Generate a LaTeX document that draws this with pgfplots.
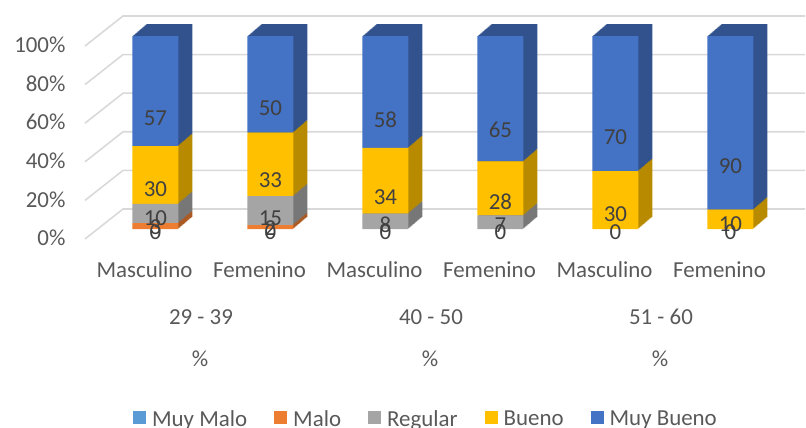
\documentclass[border=0pt]{standalone}
\usepackage{pgfplots}
\pgfplotsset{compat=1.18}
\usepackage{pgfplotstable}
\usepackage{fontspec}
\setmainfont{Carlito}
\definecolor{cMM}{HTML}{5B9BD5}
\definecolor{cMa}{HTML}{ED7D31}
\definecolor{cRe}{HTML}{A5A5A5}
\definecolor{cBu}{HTML}{FFC000}
\definecolor{cMB}{HTML}{4472C4}
\definecolor{tickc}{HTML}{595959}
\definecolor{labc}{HTML}{404040}
\definecolor{gridc}{HTML}{D9D9D9}
\newcommand\F{\fontsize{23}{27}\selectfont}

\pgfplotstableread{
x MuyMalo Malo Regular Bueno MuyBueno
0 0 3 10 30 57
1 0 2 15 33 50
2 0 0 8 34 58
3 0 0 7 28 65
4 0 0 0 30 70
5 0 0 0 10 90
}\data

\pgfplotsset{
  geom/.style={scale only axis, width=720bp, height=193bp,
    xmin=-0.613, xmax=5.648, ymin=0, ymax=100,
    at={(0,0)}, anchor=south west, clip=false},
  bars/.style={ybar stacked, bar width=46bp},
  sq legend/.style={legend image code/.code={\fill[#1,draw=none] (0bp,-5bp) rectangle (13bp,8bp);}},
}
\newcommand\sidebar[2]{\addplot[fill=#2!72!black, draw=none] table[x=x, y=#1] {\data};}
\newcommand\frontbar[2]{\addplot[fill=#2, draw=none, sq legend,
   nodes near coords={\pgfmathprintnumber[assume math mode=true]{\pgfplotspointmeta}},
   point meta=explicit,
   visualization depends on={\thisrow{#1} \as \rawy},
   every node near coord/.append style={anchor=center, font=\F, text=labc,
      yshift=-\rawy*0.4825bp}]
   table[x=x, y=#1, meta=#1] {\data};}

\begin{document}
\begin{tikzpicture}
\path[use as bounding box] (-85bp,-199bp) rectangle (721bp,229bp);

\begin{axis}[geom, hide axis]
\pgfplotsinvokeforeach{0,20,40,60,80,100}{
  \draw[gridc, line width=1.6bp] ([yshift=-10bp]axis cs:-0.613,#1) -- ([xshift=38bp,yshift=20bp]axis cs:-0.613,#1) -- ([yshift=20bp]axis cs:5.648,#1);
}
\end{axis}

\foreach \s in {14,13,...,1}{
\begin{axis}[geom, bars, hide axis, xshift=\s bp, yshift=\s*0.857bp]
\sidebar{MuyMalo}{cMM}
\sidebar{Malo}{cMa}
\sidebar{Regular}{cRe}
\sidebar{Bueno}{cBu}
\sidebar{MuyBueno}{cMB}
\end{axis}
}

\begin{axis}[geom, bars,
  axis line style={draw=none}, major tick length=0, tick style={draw=none},
  xtick={0,...,5},
  xticklabels={Masculino,Femenino,Masculino,Femenino,Masculino,Femenino},
  ytick={0,20,...,100},
  yticklabels={0\%,20\%,40\%,60\%,80\%,100\%},
  ticklabel style={font=\F, text=tickc},
  xticklabel style={anchor=base, yshift=-48bp, xshift=-11bp},
  yticklabel style={anchor=east, xshift=-16bp, yshift=-9bp},
  legend style={at={(0.4722,-0.985)}, anchor=center, legend columns=-1,
    draw=none, fill=none, font=\F, text=tickc, nodes={inner xsep=0bp},
    /tikz/every odd column/.append style={column sep=6bp},
    /tikz/every even column/.append style={column sep=27bp}},
]
\frontbar{MuyMalo}{cMM}
\frontbar{Malo}{cMa}
\frontbar{Regular}{cRe}
\frontbar{Bueno}{cBu}
\frontbar{MuyBueno}{cMB}
\legend{Muy Malo, Malo, Regular, Bueno, Muy Bueno}
\node[anchor=base, font=\F, text=tickc] at ([xshift=-12bp, yshift=-95bp]axis cs:0.5,0) {29 - 39};
\node[anchor=base, font=\F, text=tickc] at ([xshift=-12bp, yshift=-95bp]axis cs:2.5,0) {40 - 50};
\node[anchor=base, font=\F, text=tickc] at ([xshift=-12bp, yshift=-95bp]axis cs:4.5,0) {51 - 60};
\node[anchor=base, font=\F, text=tickc] at ([xshift=-13bp, yshift=-137bp]axis cs:0.5,0) {\%};
\node[anchor=base, font=\F, text=tickc] at ([xshift=-13bp, yshift=-137bp]axis cs:2.5,0) {\%};
\node[anchor=base, font=\F, text=tickc] at ([xshift=-13bp, yshift=-137bp]axis cs:4.5,0) {\%};
\end{axis}

% zero-valued (Muy Malo) data labels at the foot of each column
\begin{axis}[geom, hide axis]
\addplot[draw=none, mark=none,
   nodes near coords={\pgfmathprintnumber[assume math mode=true]{\pgfplotspointmeta}},
   point meta=explicit,
   every node near coord/.append style={anchor=center, font=\F, text=labc, yshift=-3bp}]
   table[x=x, y=MuyMalo, meta=MuyMalo] {\data};
\end{axis}
\end{tikzpicture}
\end{document}
